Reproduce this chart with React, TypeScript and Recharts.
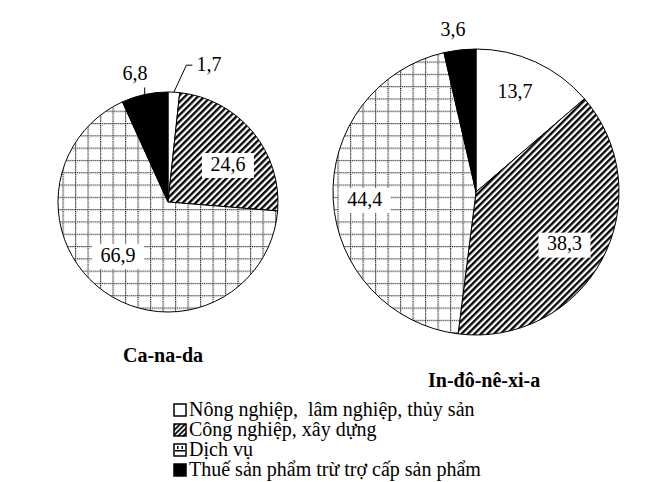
import React from "react"
import { PieChart, Pie, Cell } from "recharts"

const CATEGORIES = [
  "Nông nghiệp,  lâm nghiệp, thủy sản",
  "Công nghiệp, xây dựng",
  "Dịch vụ",
  "Thuế sản phẩm trừ trợ cấp sản phẩm",
]
const CANADA = [1.7, 24.6, 66.9, 6.8]
const INDONESIA = [13.7, 38.3, 44.4, 3.6]

const FILLS = ["#ffffff", "url(#hatch)", "url(#grid)", "#000000"]
const FONT = "Liberation Serif, DejaVu Serif, serif"
const RAD = Math.PI / 180

// label placement per slice: distance (fraction of radius), angle shift, white box, leader type
type LabelOpt = { dist: number; shift: number; box?: boolean; leader?: "elbow" | "tick" }

const CANADA_LABELS: LabelOpt[] = [
  { dist: 1.255, shift: -4.6, leader: "elbow" },
  { dist: 0.64, shift: -7.9, box: true },
  { dist: 0.67, shift: -7.7, box: true },
  { dist: 1.19, shift: 2.4, leader: "tick" },
]
const INDO_LABELS: LabelOpt[] = [
  { dist: 0.745, shift: 3.2 },
  { dist: 0.72, shift: -2.5, box: true },
  { dist: 0.78, shift: 1.2, box: true },
  { dist: 1.14, shift: 1.6 },
]

const fmt = (v: number) => String(v).replace(".", ",")

function makeLabel(opts: LabelOpt[]) {
  return (props: any) => {
    const { cx, cy, midAngle, outerRadius, index, value } = props
    const o = opts[index]
    const ang = (midAngle + o.shift) * RAD
    const tx = cx + outerRadius * o.dist * Math.cos(ang)
    const ty = cy - outerRadius * o.dist * Math.sin(ang)
    const text = fmt(value)
    const ex = cx + outerRadius * Math.cos(midAngle * RAD)
    const ey = cy - outerRadius * Math.sin(midAngle * RAD)
    if (o.leader === "elbow") {
      return (
        <g>
          <polyline points={`${ex},${ey} ${tx},${ty} ${tx + 6},${ty}`} fill="none" stroke="#000" strokeWidth={1} />
          <text x={tx + 10} y={ty + 1} fontFamily={FONT} fontSize={20} fill="#000" dominantBaseline="middle">{text}</text>
        </g>
      )
    }
    if (o.leader === "tick") {
      return (
        <g>
          <line x1={ex} y1={ey} x2={ex} y2={ey - 7} stroke="#000" strokeWidth={1} />
          <text x={tx} y={ty} fontFamily={FONT} fontSize={20} fill="#000" textAnchor="middle" dominantBaseline="middle">{text}</text>
        </g>
      )
    }
    const w = text.length * 10 + 12
    return (
      <g>
        {o.box && <rect x={tx - w / 2} y={ty - 12} width={w} height={25} fill="#fff" />}
        <text x={tx} y={ty + 1} fontFamily={FONT} fontSize={20} fill="#000" textAnchor="middle" dominantBaseline="middle">{text}</text>
      </g>
    )
  }
}

function Patterns() {
  return (
    <svg width={0} height={0} style={{ position: "absolute" }}>
      <defs>
        <pattern id="hatch" width={4.6} height={4.6} patternUnits="userSpaceOnUse" patternTransform="rotate(45)">
          <rect width={4.6} height={4.6} fill="#fff" />
          <line x1={1.2} y1={0} x2={1.2} y2={4.6} stroke="#000" strokeWidth={2.3} />
        </pattern>
        <pattern id="grid" width={12.5} height={12.3} patternUnits="userSpaceOnUse">
          <rect width={12.5} height={12.3} fill="#fff" />
          <line x1={0} y1={0.6} x2={12.5} y2={0.6} stroke="#000" strokeWidth={1.2} strokeDasharray="1 1" />
          <line x1={0.6} y1={0} x2={0.6} y2={12.3} stroke="#000" strokeWidth={1.2} strokeDasharray="1 1" />
        </pattern>
        <pattern id="hatchSmall" width={3.5} height={3.5} patternUnits="userSpaceOnUse" patternTransform="rotate(45)">
          <rect width={3.5} height={3.5} fill="#fff" />
          <line x1={1} y1={0} x2={1} y2={3.5} stroke="#000" strokeWidth={1.8} />
        </pattern>
      </defs>
    </svg>
  )
}

function LegendIcon({ i, x, y }: { i: number; x: number; y: number }) {
  const fill = i === 1 ? "url(#hatchSmall)" : i === 2 ? "#fff" : FILLS[i]
  return (
    <g transform={`translate(${x},${y})`}>
      <rect x={0} y={0} width={12} height={12} fill={fill} stroke="#000" strokeWidth={1.5} />
      {i === 2 && (
        <g fill="#000">
          <rect x={3} y={2} width={1.5} height={3} />
          <rect x={7.5} y={2} width={1.5} height={3} />
          <rect x={1} y={6} width={10} height={1.5} />
        </g>
      )}
    </g>
  )
}

function Overlay() {
  return (
    <svg width={647} height={482} style={{ position: "absolute", left: 0, top: 0 }}>
      <text x={123} y={362} fontFamily={FONT} fontSize={20} fontWeight="bold" fill="#000">Ca-na-da</text>
      <text x={428} y={387} fontFamily={FONT} fontSize={20} fontWeight="bold" fill="#000">In-đô-nê-xi-a</text>
      {CATEGORIES.map((c, i) => (
        <g key={i}>
          <LegendIcon i={i} x={174} y={404 + i * 20} />
          <text x={189} y={416 + i * 20} fontFamily={FONT} fontSize={20} fill="#000" style={{ whiteSpace: "pre" }}>{c}</text>
        </g>
      ))}
    </svg>
  )
}

export default function App() {
  return (
    <div style={{ position: "relative", width: 647, height: 482, background: "#fff" }}>
      <style>{`body{margin:0}`}</style>
      <Patterns />
      <PieChart width={647} height={482} margin={{ top: 0, right: 0, bottom: 0, left: 0 }}>
        <Pie
          data={CANADA.map((v, i) => ({ name: CATEGORIES[i], value: v }))}
          dataKey="value"
          cx={168}
          cy={202}
          outerRadius={110}
          startAngle={90}
          endAngle={-270}
          stroke="#000"
          strokeWidth={1}
          labelLine={false}
          label={makeLabel(CANADA_LABELS)}
          isAnimationActive={false}
        >
          {CANADA.map((_, i) => <Cell key={i} fill={FILLS[i]} />)}
        </Pie>
        <Pie
          data={INDONESIA.map((v, i) => ({ name: CATEGORIES[i], value: v }))}
          dataKey="value"
          cx={476}
          cy={192}
          outerRadius={143}
          startAngle={90}
          endAngle={-270}
          stroke="#000"
          strokeWidth={1}
          labelLine={false}
          label={makeLabel(INDO_LABELS)}
          isAnimationActive={false}
        >
          {INDONESIA.map((_, i) => <Cell key={i} fill={FILLS[i]} />)}
        </Pie>
      </PieChart>
      <Overlay />
    </div>
  )
}
